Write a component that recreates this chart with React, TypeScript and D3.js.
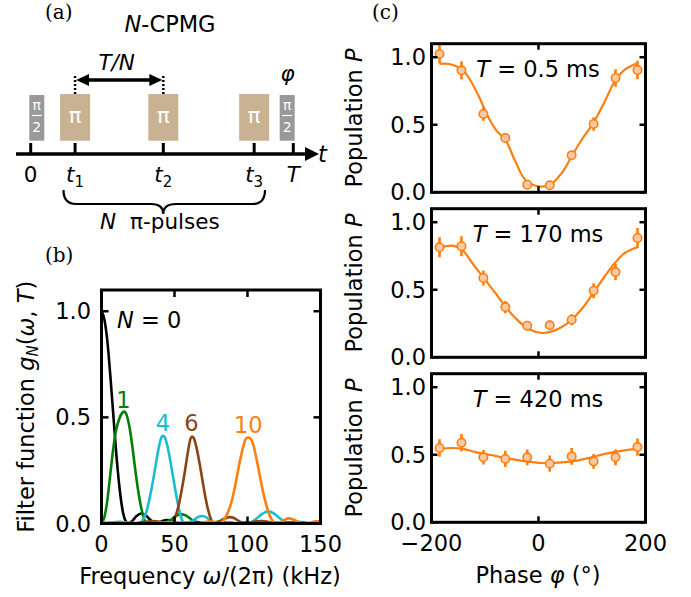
import React from 'react';
import * as d3 from 'd3';

const FONT = 'DejaVu Sans';
const ORANGE = '#ff7f0e';
const MARKER_FILL = '#fcc9a5';

// ---------- Panel (a): pulse sequence ----------
const TIME_LABELS = ['0', 't1', 't2', 't3', 'T'];
const TIME_POS = [0, 0.169, 0.505, 0.851, 1.0];
const PI_PULSES = [1, 2, 3];

// ---------- Panel (b): filter functions ----------
const FILTER_TICKS_X = [0, 50, 100, 150];
const FILTER_TICKS_Y = [0, 0.5, 1.0];

const G_N0: [number, number][] = [
  [0, 1.0], [2, 0.96], [4, 0.86], [6, 0.70], [8, 0.52], [10, 0.34], [12, 0.19], [14, 0.08], [16, 0.02],
  [18.5, 0], [21, 0.012], [24, 0.035], [27, 0.047], [30, 0.04], [33, 0.02], [37, 0], [41, 0.01], [45, 0.016],
  [49, 0.01], [55, 0], [60, 0.006], [64, 0.008], [68, 0.005], [74, 0], [79, 0.004], [83, 0.005], [87, 0.003],
  [92, 0], [97, 0.003], [101, 0.004], [105, 0.002], [111, 0], [116, 0.002], [120, 0.003], [124, 0.002],
  [129, 0], [134, 0.002], [138, 0.002], [142, 0.001], [148, 0], [150, 0.001],
];
const G_N1: [number, number][] = [
  [0, 0], [2, 0.03], [4, 0.11], [6, 0.23], [8, 0.35], [10, 0.44], [12, 0.49], [14, 0.52], [15.5, 0.527],
  [17, 0.515], [19, 0.46], [21, 0.37], [23, 0.26], [25, 0.16], [27, 0.08], [29, 0.025], [31, 0], [34, 0.003],
  [38, 0], [44, 0.005], [48, 0.02], [51, 0.036], [54, 0.044], [57, 0.04], [60, 0.028], [63, 0.012], [66, 0.002],
  [69, 0], [75, 0.004], [80, 0.008], [85, 0.006], [90, 0.001], [95, 0], [100, 0.003], [106, 0.006],
  [112, 0.004], [118, 0], [124, 0.002], [130, 0.004], [136, 0.003], [142, 0.001], [150, 0.002],
];
const G_N4: [number, number][] = [
  [0, 0], [4, 0.002], [8, 0.006], [12, 0.008], [16, 0.006], [20, 0.002], [24, 0], [27, 0.005], [29, 0.025],
  [31, 0.06], [33, 0.12], [35, 0.19], [37, 0.27], [39, 0.35], [41, 0.405], [42, 0.413], [43, 0.41], [45, 0.37],
  [47, 0.30], [49, 0.22], [51, 0.14], [53, 0.07], [55, 0.02], [57, 0], [60, 0.006], [63, 0.015], [66, 0.03],
  [69, 0.035], [72, 0.028], [75, 0.012], [78, 0.002], [80, 0], [84, 0.003], [88, 0.004], [92, 0.002], [96, 0],
  [100, 0.002], [103, 0.008], [106, 0.022], [110, 0.045], [114, 0.057], [118, 0.048], [122, 0.025],
  [126, 0.006], [128, 0], [131, 0.004], [135, 0.008], [139, 0.006], [143, 0.002], [146, 0], [150, 0.003],
];
const G_N6: [number, number][] = [
  [0, 0], [10, 0.003], [20, 0], [30, 0.008], [36, 0.012], [40, 0.008], [44, 0.002], [47, 0], [49, 0.01],
  [51, 0.04], [53, 0.09], [55, 0.16], [57, 0.24], [59, 0.33], [61, 0.40], [62, 0.41], [63, 0.405], [65, 0.36],
  [67, 0.29], [69, 0.21], [71, 0.13], [73, 0.065], [75, 0.02], [77, 0], [79, 0.004], [82, 0.015], [85, 0.025],
  [88, 0.03], [91, 0.025], [94, 0.012], [97, 0.002], [99, 0], [102, 0.004], [106, 0.01], [110, 0.012],
  [114, 0.008], [118, 0.002], [121, 0], [125, 0.003], [130, 0.006], [135, 0.005], [140, 0.002], [144, 0], [150, 0.003],
];
const G_N10: [number, number][] = [
  [0, 0.004], [10, 0.003], [20, 0.002], [30, 0], [40, 0.003], [50, 0.006], [58, 0.004], [65, 0], [70, 0.006],
  [74, 0.01], [78, 0.004], [81, 0], [83, 0.01], [85, 0.03], [87, 0.06], [89, 0.10], [91, 0.16], [93, 0.23],
  [95, 0.30], [97, 0.36], [99, 0.40], [100.5, 0.405], [102, 0.40], [104, 0.37], [106, 0.31], [108, 0.24],
  [110, 0.17], [112, 0.11], [114, 0.06], [116, 0.025], [118, 0.006], [120, 0], [122, 0.004], [125, 0.015],
  [128, 0.024], [131, 0.02], [134, 0.01], [137, 0.002], [140, 0], [143, 0.004], [147, 0.01], [150, 0.012],
];
const FILTER_SERIES = [
  { label: 'N = 0', data: G_N0, color: '#000000', lx: 0, ly: 0 },
  { label: '1', data: G_N1, color: '#008000', lx: 15, ly: 0.53 },
  { label: '4', data: G_N4, color: '#17becf', lx: 42, ly: 0.42 },
  { label: '6', data: G_N6, color: '#8b4513', lx: 61.5, ly: 0.42 },
  { label: '10', data: G_N10, color: ORANGE, lx: 100.5, ly: 0.41 },
];

// ---------- Panel (c): Ramsey fringes ----------
const PHASE_TICKS = [-200, 0, 200];
const POP_TICKS = [0, 0.5, 1.0];
const PHASES = [-185, -144, -103, -62, -21, 21, 62, 103, 144, 185];

const P_05 = [1.024, 0.903, 0.580, 0.402, 0.056, 0.052, 0.274, 0.506, 0.846, 0.905];
const E_05 = [0.07, 0.068, 0.05, 0.035, 0.015, 0.015, 0.03, 0.05, 0.065, 0.068];
const FIT_05_PHI = [-185, -167, -142.5, -130, -111.5, -93, -77.4, -62, -43.3, -24.7, 0, 21.8, 43.5, 62, 80.7, 102.4, 124, 142.7, 161.3, 186];
const FIT_05_P = [0.950, 0.950, 0.908, 0.846, 0.710, 0.550, 0.451, 0.389, 0.229, 0.093, 0.044, 0.056, 0.143, 0.266, 0.389, 0.513, 0.674, 0.822, 0.908, 0.957];

const P_170 = [0.814, 0.822, 0.587, 0.372, 0.234, 0.237, 0.278, 0.493, 0.631, 0.883];
const E_170 = [0.074, 0.074, 0.055, 0.045, 0.02, 0.035, 0.04, 0.055, 0.06, 0.074];
const FIT_170_PHI = [-185, -161, -142.5, -124, -102.3, -80.6, -62, -43.3, -18.5, 6.3, 24.9, 43.5, 62, 80.7, 102.4, 124, 142.7, 161.3, 186];
const FIT_170_P = [0.809, 0.826, 0.796, 0.698, 0.587, 0.476, 0.377, 0.291, 0.209, 0.180, 0.192, 0.224, 0.278, 0.357, 0.476, 0.600, 0.698, 0.772, 0.816];

const P_420 = [0.550, 0.589, 0.481, 0.469, 0.481, 0.434, 0.488, 0.451, 0.481, 0.557];
const E_420 = [0.064, 0.064, 0.054, 0.06, 0.058, 0.06, 0.062, 0.055, 0.058, 0.064];
const FIT_420_PHI = [-185, -161, -142.5, -117.7, -86.7, -55.7, -24.7, 6.3, 24.9, 49.7, 74.5, 99.3, 124, 148.9, 186];
const FIT_420_P = [0.545, 0.550, 0.545, 0.520, 0.496, 0.471, 0.451, 0.439, 0.439, 0.446, 0.459, 0.481, 0.506, 0.525, 0.545];

const RAMSEY = [
  { label: '0.5 ms', p: P_05, e: E_05, fphi: FIT_05_PHI, fp: FIT_05_P },
  { label: '170 ms', p: P_170, e: E_170, fphi: FIT_170_PHI, fp: FIT_170_P },
  { label: '420 ms', p: P_420, e: E_420, fphi: FIT_420_PHI, fp: FIT_420_P },
];

function Frame({ x, y, xt, yt, tl }: any) {
  const [x0, x1] = x.range();
  const [y0, y1] = y.range();
  const items: any[] = [];
  xt.forEach((t: number, i: number) => {
    items.push(<line key={'xb' + i} x1={x(t)} x2={x(t)} y1={y0} y2={y0 - tl} stroke="#000" strokeWidth={2.5} />);
    items.push(<line key={'xt' + i} x1={x(t)} x2={x(t)} y1={y1} y2={y1 + tl} stroke="#000" strokeWidth={2.5} />);
  });
  yt.forEach((t: number, i: number) => {
    items.push(<line key={'yl' + i} x1={x0} x2={x0 + tl} y1={y(t)} y2={y(t)} stroke="#000" strokeWidth={2.5} />);
    items.push(<line key={'yr' + i} x1={x1} x2={x1 - tl} y1={y(t)} y2={y(t)} stroke="#000" strokeWidth={2.5} />);
  });
  return (
    <g>
      {items}
      <rect x={x0} y={y1} width={x1 - x0} height={y0 - y1} fill="none" stroke="#000" strokeWidth={3} />
    </g>
  );
}

export default function App() {
  const fs = 22.5;

  // panel (a)
  const tx = d3.scaleLinear().domain([0, 1]).range([30.7, 293.3]);
  const lineY = 154;

  // panel (b)
  const bx = d3.scaleLinear().domain([0, 150]).range([101.5, 320.5]);
  const by = d3.scaleLinear().domain([0, 1.1]).range([523.5, 290]);
  const bLine = d3.line<[number, number]>().x(d => bx(d[0])).y(d => by(d[1])).curve(d3.curveMonotoneX);

  // panel (c)
  const cx = d3.scaleLinear().domain([-200, 200]).range([431.5, 645.5]);
  const tops = [43.7, 208.7, 373.7];
  const ph = 148.6;

  return (
    <svg width={691} height={597} style={{ position: 'absolute', left: 0, top: 0, background: '#fff' }} fontFamily={FONT}>
      <defs>
        <clipPath id="clipb"><rect x={101.5} y={290} width={219} height={233.5} /></clipPath>
        {tops.map((t, i) => (
          <clipPath id={'clipc' + i} key={i}><rect x={431.5} y={t} width={214} height={ph} /></clipPath>
        ))}
      </defs>

      {/* ---------- panel (a) ---------- */}
      <text x={45} y={19} fontFamily="DejaVu Serif" fontSize={20}>(a)</text>
      <text x={170} y={31.7} fontSize={fs} textAnchor="middle"><tspan fontStyle="italic">N</tspan>-CPMG</text>

      {/* pi/2 pulses */}
      {[0, 1].map(i => {
        const x0 = i === 0 ? tx(0) - 1.4 : tx(1) - 13.6;
        return (
          <g key={'h' + i}>
            <rect x={x0} y={95} width={15} height={45.7} fill="#999999" />
            <text x={x0 + 7.5} y={110} fontSize={14} fill="#fff" textAnchor="middle">π</text>
            <line x1={x0 + 2.5} x2={x0 + 12.5} y1={115.5} y2={115.5} stroke="#fff" strokeWidth={1.2} />
            <text x={x0 + 7.5} y={131.5} fontSize={14} fill="#fff" textAnchor="middle">2</text>
          </g>
        );
      })}
      {/* pi pulses */}
      {PI_PULSES.map(k => (
        <g key={'p' + k}>
          <rect x={tx(TIME_POS[k]) - 15} y={94} width={30} height={46.7} fill="#c9b291" />
          <text x={tx(TIME_POS[k])} y={123} fontSize={21} fill="#fff" textAnchor="middle">π</text>
        </g>
      ))}
      {/* timeline */}
      <line x1={16} x2={308} y1={lineY} y2={lineY} stroke="#000" strokeWidth={3.5} />
      <polygon points={`305,${lineY - 7} 319,${lineY} 305,${lineY + 7}`} fill="#000" />
      <text x={318} y={161.7} fontSize={fs} fontStyle="italic">t</text>
      {TIME_POS.map((p, i) => (
        <line key={'tk' + i} x1={tx(p)} x2={tx(p)} y1={143} y2={lineY} stroke="#000" strokeWidth={3} />
      ))}
      {TIME_LABELS.map((l, i) => (
        <text key={'tl' + i} x={tx(TIME_POS[i])} y={181.7} fontSize={21.5} textAnchor="middle">
          {l.length === 2 ? (
            <>
              <tspan fontStyle="italic">{l[0]}</tspan>
              <tspan fontSize={15} dy={5}>{l[1]}</tspan>
            </>
          ) : l === 'T' ? <tspan fontStyle="italic">T</tspan> : l}
        </text>
      ))}
      {/* T/N arrow */}
      {[1, 2].map(k => (
        <line key={'dot' + k} x1={tx(TIME_POS[k])} x2={tx(TIME_POS[k])} y1={76} y2={94} stroke="#000" strokeWidth={2.5} strokeDasharray="2,2" />
      ))}
      <line x1={tx(TIME_POS[1]) + 8} x2={tx(TIME_POS[2]) - 8} y1={80} y2={80} stroke="#000" strokeWidth={3.5} />
      <polygon points={`${tx(TIME_POS[1]) + 1},80 ${tx(TIME_POS[1]) + 14},74 ${tx(TIME_POS[1]) + 14},86`} fill="#000" />
      <polygon points={`${tx(TIME_POS[2]) - 1},80 ${tx(TIME_POS[2]) - 14},74 ${tx(TIME_POS[2]) - 14},86`} fill="#000" />
      <text x={116.7} y={70} fontSize={21.5} textAnchor="middle" fontStyle="italic">T/N</text>
      <text x={287.5} y={81} fontSize={21.5} textAnchor="middle" fontStyle="italic">φ</text>
      {/* brace */}
      <path d="M63.5,190 Q63.5,204 76,204 L151,204 Q163.3,204 163.3,214 Q163.3,204 176,204 L252.5,204 Q265,204 265,190"
        fill="none" stroke="#000" strokeWidth={2.2} />
      <text x={100} y={229} fontSize={21.5}><tspan fontStyle="italic">N</tspan><tspan dx={14}>π-pulses</tspan></text>

      {/* ---------- panel (b) ---------- */}
      <text x={45} y={262} fontFamily="DejaVu Serif" fontSize={20}>(b)</text>
      <g clipPath="url(#clipb)">
        {FILTER_SERIES.map((s, i) => (
          <path key={i} d={bLine(s.data) || ''} fill="none" stroke={s.color} strokeWidth={2.6} />
        ))}
      </g>
      <Frame x={bx} y={by} xt={FILTER_TICKS_X} yt={FILTER_TICKS_Y} tl={7} />
      {FILTER_TICKS_Y.map((t, i) => (
        <text key={'by' + i} x={91} y={by(t) + 8} fontSize={fs} textAnchor="end">{t.toFixed(1)}</text>
      ))}
      {FILTER_TICKS_X.map((t, i) => (
        <text key={'bx' + i} x={bx(t)} y={552} fontSize={fs} textAnchor="middle">{t}</text>
      ))}
      <text x={210} y={584} fontSize={fs} textAnchor="middle">
        Frequency <tspan fontStyle="italic">ω</tspan>/(2π) (kHz)
      </text>
      <text transform={`translate(34,${(290 + 523.5) / 2}) rotate(-90)`} fontSize={fs} textAnchor="middle">
        Filter function <tspan fontStyle="italic">g</tspan><tspan fontStyle="italic" fontSize={15} dy={4}>N</tspan><tspan dy={-4}>(</tspan><tspan fontStyle="italic">ω</tspan>, <tspan fontStyle="italic">T</tspan>)
      </text>
      <text x={117} y={328} fontSize={fs}><tspan fontStyle="italic">N</tspan> = 0</text>
      {FILTER_SERIES.slice(1).map((s, i) => (
        <text key={'fl' + i} x={bx(s.lx)} y={by(s.ly) - 3} fontSize={fs} fill={s.color} textAnchor="middle">{s.label}</text>
      ))}

      {/* ---------- panel (c) ---------- */}
      <text x={372} y={19} fontFamily="DejaVu Serif" fontSize={20}>(c)</text>
      {RAMSEY.map((r, pi) => {
        const top = tops[pi];
        const y = d3.scaleLinear().domain([0, 1.1]).range([top + ph, top]);
        const fitPts: [number, number][] = r.fphi.map((f, i) => [f, r.fp[i]]);
        const fitLine = d3.line<[number, number]>().x(d => cx(d[0])).y(d => y(d[1])).curve(d3.curveCatmullRom);
        return (
          <g key={'c' + pi}>
            <g clipPath={`url(#clipc${pi})`}>
              <path d={fitLine(fitPts) || ''} fill="none" stroke={ORANGE} strokeWidth={2.2} />
              {PHASES.map((f, i) => (
                <line key={'e' + i} x1={cx(f)} x2={cx(f)} y1={y(r.p[i] - r.e[i])} y2={y(r.p[i] + r.e[i])} stroke={ORANGE} strokeWidth={2.6} />
              ))}
              {PHASES.map((f, i) => (
                <circle key={'m' + i} cx={cx(f)} cy={y(r.p[i])} r={4.2} fill={MARKER_FILL} stroke={ORANGE} strokeWidth={1.6} />
              ))}
            </g>
            <Frame x={cx} y={y} xt={PHASE_TICKS} yt={POP_TICKS} tl={6} />
            {POP_TICKS.map((t, i) => (
              <text key={'cy' + i} x={426} y={y(t) + 8} fontSize={fs} textAnchor="end">{t.toFixed(1)}</text>
            ))}
            <text x={538} y={top + 33} fontSize={fs} textAnchor="middle">
              <tspan fontStyle="italic">T</tspan> = {r.label}
            </text>
            <text transform={`translate(362,${top + ph / 2}) rotate(-90)`} fontSize={fs} textAnchor="middle">
              Population <tspan fontStyle="italic">P</tspan>
            </text>
          </g>
        );
      })}
      {PHASE_TICKS.map((t, i) => (
        <text key={'cx' + i} x={cx(t)} y={551} fontSize={fs} textAnchor="middle">{t < 0 ? '\u2212' + Math.abs(t) : t}</text>
      ))}
      <text x={538} y={583} fontSize={fs} textAnchor="middle">
        Phase <tspan fontStyle="italic">φ</tspan> (°)
      </text>
    </svg>
  );
}
